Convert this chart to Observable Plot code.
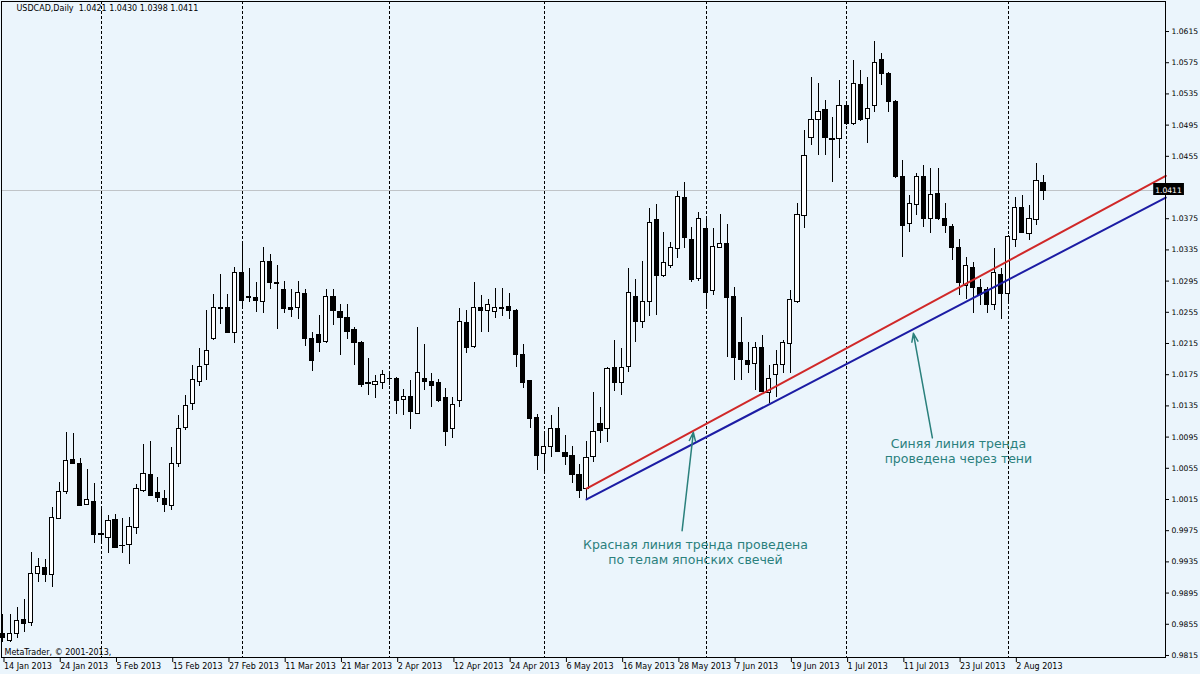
<!DOCTYPE html>
<html><head><meta charset="utf-8">
<script src="https://cdn.jsdelivr.net/npm/d3@7"></script>
<script src="https://cdn.jsdelivr.net/npm/@observablehq/plot@0.6"></script>
<style>
html,body{margin:0;padding:0;background:#ebf5fc;}
#chart{width:1200px;height:674px;overflow:hidden;}
svg text{white-space:pre;}
</style></head><body><div id="chart"></div>
<script>
const symbol = "USDCAD,Daily";
const copyright = "MetaTrader, © 2001-2013,";
const dateLabels = ["14 Jan 2013","24 Jan 2013","5 Feb 2013","15 Feb 2013","27 Feb 2013","11 Mar 2013","21 Mar 2013","2 Apr 2013","12 Apr 2013","24 Apr 2013","6 May 2013","16 May 2013","28 May 2013","7 Jun 2013","19 Jun 2013","1 Jul 2013","11 Jul 2013","23 Jul 2013","2 Aug 2013"];
const dateLabelBars = [0,8,16,24,32,40,48,56,64,72,80,88,96,104,112,120,128,136,144];
const monthStartBars = [14,34,55,77,100,120,143];
const priceTicks = [0.9815,0.9855,0.9895,0.9935,0.9975,1.0015,1.0055,1.0095,1.0135,1.0175,1.0215,1.0255,1.0295,1.0335,1.0375,1.0415,1.0455,1.0495,1.0535,1.0575,1.0615];

const opens = [0.9842,0.9834,0.9842,0.9861,0.9857,0.9920,0.9927,0.9918,0.9990,1.0024,1.0065,1.0061,1.0008,1.0012,0.9971,0.9965,0.9989,0.9955,0.9957,0.9978,1.0026,1.0047,1.0023,1.0016,1.0007,1.0061,1.0107,1.0138,1.0165,1.0187,1.0221,1.0260,1.0261,1.0228,1.0305,1.0274,1.0273,1.0268,1.0319,1.0293,1.0284,1.0261,1.0260,1.0279,1.0221,1.0226,1.0217,1.0274,1.0256,1.0248,1.0232,1.0216,1.0164,1.0162,1.0164,1.0170,1.0169,1.0142,1.0147,1.0125,1.0169,1.0166,1.0164,1.0145,1.0106,1.0141,1.0241,1.0210,1.0261,1.0257,1.0256,1.0259,1.0262,1.0257,1.0200,1.0167,1.0119,1.0073,1.0082,1.0106,1.0075,1.0071,1.0047,1.0029,1.0069,1.0112,1.0106,1.0183,1.0164,1.0185,1.0274,1.0242,1.0268,1.0373,1.0301,1.0315,1.0336,1.0401,1.0348,1.0298,1.0362,1.0282,1.0338,1.0343,1.0274,1.0216,1.0193,1.0189,1.0209,1.0152,1.0174,1.0187,1.0214,1.0268,1.0379,1.0478,1.0501,1.0514,1.0477,1.0477,1.0520,1.0497,1.0546,1.0503,1.0519,1.0579,1.0561,1.0525,1.0428,1.0368,1.0392,1.0428,1.0374,1.0407,1.0375,1.0365,1.0338,1.0289,1.0312,1.0286,1.0283,1.0264,1.0303,1.0279,1.0348,1.0389,1.0356,1.0373,1.0421];
const highs = [0.9868,0.9868,0.9876,0.9887,0.9947,0.9939,0.9938,1.0005,1.0037,1.0101,1.0100,1.0068,1.0053,1.0035,1.0005,0.9994,0.9996,0.9991,0.9992,1.0034,1.0085,1.0089,1.0043,1.0026,1.0082,1.0123,1.0148,1.0187,1.0209,1.0257,1.0278,1.0303,1.0278,1.0312,1.0343,1.0311,1.0293,1.0338,1.0329,1.0315,1.0294,1.0284,1.0294,1.0284,1.0229,1.0251,1.0284,1.0284,1.0265,1.0265,1.0235,1.0217,1.0196,1.0174,1.0180,1.0178,1.0171,1.0156,1.0168,1.0235,1.0214,1.0177,1.0169,1.0157,1.0146,1.0260,1.0257,1.0293,1.0277,1.0271,1.0286,1.0286,1.0279,1.0258,1.0214,1.0168,1.0124,1.0100,1.0123,1.0133,1.0097,1.0083,1.0060,1.0089,1.0152,1.0133,1.0184,1.0219,1.0209,1.0311,1.0297,1.0320,1.0388,1.0393,1.0357,1.0344,1.0410,1.0421,1.0364,1.0383,1.0375,1.0362,1.0380,1.0368,1.0287,1.0248,1.0216,1.0216,1.0225,1.0187,1.0206,1.0219,1.0283,1.0394,1.0488,1.0556,1.0548,1.0527,1.0505,1.0552,1.0522,1.0578,1.0565,1.0556,1.0602,1.0587,1.0562,1.0526,1.0450,1.0405,1.0433,1.0443,1.0439,1.0439,1.0394,1.0368,1.0348,1.0325,1.0319,1.0297,1.0287,1.0337,1.0311,1.0353,1.0402,1.0405,1.0392,1.0446,1.0430];
const lows = [0.9832,0.9832,0.9837,0.9845,0.9852,0.9909,0.9909,0.9902,0.9989,1.0021,1.0060,1.0006,1.0007,0.9958,0.9958,0.9946,0.9952,0.9946,0.9932,0.9970,1.0024,1.0019,1.0011,0.9998,1.0001,1.0056,1.0103,1.0129,1.0160,1.0168,1.0219,1.0239,1.0228,1.0215,1.0259,1.0268,1.0255,1.0253,1.0284,1.0233,1.0253,1.0248,1.0246,1.0211,1.0179,1.0203,1.0215,1.0238,1.0200,1.0220,1.0187,1.0159,1.0148,1.0145,1.0156,1.0161,1.0124,1.0123,1.0105,1.0124,1.0155,1.0133,1.0139,1.0083,1.0093,1.0133,1.0202,1.0208,1.0229,1.0229,1.0247,1.0250,1.0246,1.0184,1.0157,1.0106,1.0052,1.0048,1.0069,1.0075,1.0059,1.0035,1.0016,1.0015,1.0062,1.0087,1.0088,1.0153,1.0148,1.0178,1.0216,1.0234,1.0250,1.0251,1.0300,1.0311,1.0324,1.0337,1.0293,1.0294,1.0260,1.0277,1.0337,1.0197,1.0168,1.0168,1.0177,1.0155,1.0152,1.0138,1.0146,1.0177,1.0177,1.0266,1.0362,1.0469,1.0456,1.0456,1.0421,1.0452,1.0494,1.0494,1.0500,1.0471,1.0511,1.0546,1.0511,1.0427,1.0325,1.0357,1.0379,1.0364,1.0356,1.0373,1.0356,1.0321,1.0277,1.0271,1.0253,1.0264,1.0253,1.0257,1.0246,1.0268,1.0338,1.0356,1.0347,1.0366,1.0398];
const closes = [0.9837,0.9843,0.9859,0.9855,0.9919,0.9928,0.9918,0.9991,1.0025,1.0064,1.0061,1.0007,1.0014,0.9970,0.9970,0.9988,0.9953,0.9956,0.9980,1.0028,1.0048,1.0020,1.0017,1.0008,1.0061,1.0106,1.0135,1.0168,1.0185,1.0206,1.0261,1.0259,1.0229,1.0306,1.0269,1.0273,1.0269,1.0319,1.0292,1.0291,1.0259,1.0258,1.0280,1.0221,1.0193,1.0216,1.0275,1.0257,1.0248,1.0230,1.0215,1.0162,1.0163,1.0165,1.0175,1.0169,1.0141,1.0146,1.0127,1.0177,1.0165,1.0161,1.0141,1.0102,1.0136,1.0242,1.0209,1.0261,1.0257,1.0265,1.0261,1.0261,1.0257,1.0200,1.0164,1.0118,1.0071,1.0082,1.0106,1.0076,1.0069,1.0046,1.0026,1.0068,1.0101,1.0103,1.0182,1.0164,1.0184,1.0280,1.0242,1.0268,1.0370,1.0302,1.0318,1.0337,1.0403,1.0350,1.0297,1.0374,1.0280,1.0339,1.0342,1.0273,1.0196,1.0194,1.0188,1.0209,1.0153,1.0170,1.0187,1.0215,1.0271,1.0380,1.0455,1.0502,1.0512,1.0478,1.0476,1.0519,1.0496,1.0548,1.0502,1.0516,1.0575,1.0561,1.0525,1.0428,1.0366,1.0394,1.0428,1.0375,1.0406,1.0375,1.0366,1.0338,1.0292,1.0315,1.0286,1.0277,1.0264,1.0306,1.0279,1.0351,1.0389,1.0357,1.0375,1.0423,1.0411];

// trend lines (bar index, price)
const redTrend = [[83, 1.0029], [165.4, 1.0430]];
const blueTrend = [[83, 1.0015], [165.4, 1.0402]];
// annotations
const notes = [
  {x: 98.5, y: 0.9948, text: "Красная линия тренда проведена\nпо телам японских свечей"},
  {x: 135.9, y: 1.0077, text: "Синяя линия тренда\nпроведена через тени"}
];
const arrows = [
  {x1: 96.6, y1: 0.9975, x2: 98.2, y2: 1.0101},
  {x1: 132.2, y1: 1.0094, x2: 129.5, y2: 1.0228}
];

const bars = opens.map((o, i) => ({i, o, h: highs[i], l: lows[i], c: closes[i]}));
const last = bars[bars.length - 1];
const f4 = d => d.toFixed(4);
const teal = "#2a807c";
const bg = "#ebf5fc";
const font = "'DejaVu Sans', Verdana, sans-serif";
// the tick label that the current-price box hides
const hiddenTick = priceTicks.reduce((a, b) => Math.abs(b - last.c) < Math.abs(a - last.c) ? b : a);

const plot = Plot.plot({
  width: 1200, height: 674,
  marginLeft: 1, marginRight: 35, marginTop: 1, marginBottom: 17,
  style: {background: bg, fontFamily: font, fontSize: "8px", color: "#000"},
  x: {type: "linear", domain: [-0.213, 165.36], axis: null},
  y: {type: "linear", domain: [0.98124, 1.06535], axis: null},
  marks: [
    Plot.ruleY([last.c], {stroke: "#c0c4c8", strokeWidth: 1, shapeRendering: "crispEdges"}),
    Plot.ruleX(monthStartBars, {stroke: "#000", strokeWidth: 1, strokeDasharray: "3,2", shapeRendering: "crispEdges"}),
    Plot.ruleX(bars, {x: "i", y1: "l", y2: "h", stroke: "#000", strokeWidth: 1, shapeRendering: "crispEdges"}),
    Plot.rect(bars.filter(d => d.c >= d.o), {x1: d => d.i - 0.3, x2: d => d.i + 0.3, y1: "o", y2: "c", fill: "#fff", stroke: "#000", strokeWidth: 1, shapeRendering: "crispEdges"}),
    Plot.rect(bars.filter(d => d.c < d.o), {x1: d => d.i - 0.3, x2: d => d.i + 0.3, y1: "o", y2: "c", fill: "#000", stroke: "#000", strokeWidth: 1, shapeRendering: "crispEdges"}),
    Plot.line(redTrend, {x: d => d[0], y: d => d[1], stroke: "#d02828", strokeWidth: 2}),
    Plot.line(blueTrend, {x: d => d[0], y: d => d[1], stroke: "#1c1ca4", strokeWidth: 2}),
    Plot.arrow(arrows, {x1: "x1", y1: "y1", x2: "x2", y2: "y2", stroke: teal, strokeWidth: 1.5, headLength: 9, headAngle: 40}),
    Plot.text(notes, {x: "x", y: "y", text: "text", fill: teal, fontSize: 12.5, lineHeight: 1.2, textAnchor: "middle", fontFamily: font}),
    Plot.axisY(priceTicks, {anchor: "right", tickSize: 3, tickPadding: 3, tickFormat: d => d === hiddenTick ? "" : f4(d), fontSize: 7.6, textAnchor: "start"}),
    Plot.axisX(dateLabelBars, {anchor: "bottom", tickSize: 5, tickPadding: 1, tickFormat: d => dateLabels[dateLabelBars.indexOf(d)], textAnchor: "start", dx: 1, fontSize: 8}),
    Plot.frame({stroke: "#000", shapeRendering: "crispEdges"}),
    Plot.text([`${symbol}  ${f4(last.o)} ${f4(last.h)} ${f4(last.l)} ${f4(last.c)}`], {frameAnchor: "top-left", textAnchor: "start", dx: 15, dy: 4, fontSize: 8}),
    Plot.text([copyright], {frameAnchor: "bottom-left", textAnchor: "start", dx: 3, dy: -3, fontSize: 8})
  ]
});

document.getElementById("chart").appendChild(plot);

// current price label box on the right axis, positioned through the y scale
const svg = d3.select(plot);
const yPix = Math.round(plot.scale("y").apply(last.c));
const g = svg.append("g");
const box = g.append("rect").attr("x", 1166).attr("y", yPix - 7).attr("height", 12).attr("width", 31).attr("fill", "#000");
const label = g.append("text").attr("x", 1168.5).attr("y", yPix + 2.5).attr("fill", "#fff").attr("font-size", 7.6)
  .attr("font-family", font).text(f4(last.c));
const bb = label.node().getBBox();
box.attr("x", bb.x - 2).attr("width", bb.width + 4);
</script></body></html>
